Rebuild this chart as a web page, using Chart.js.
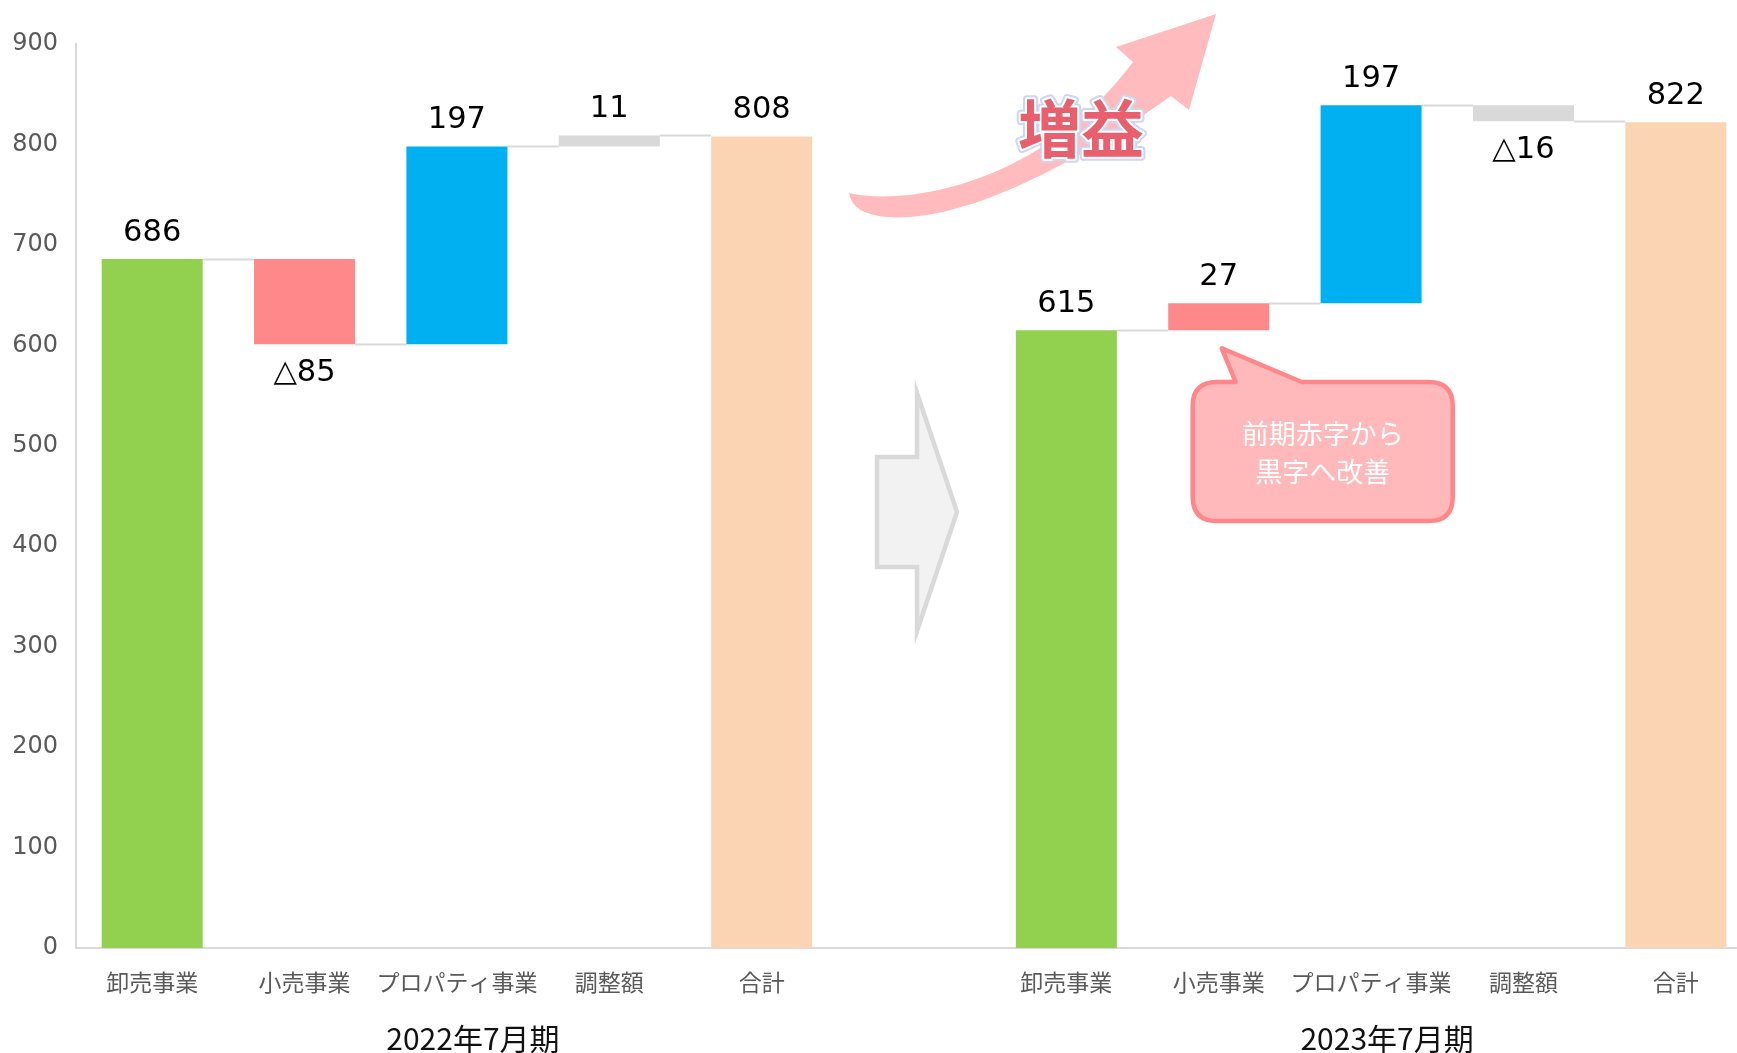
<!DOCTYPE html>
<html lang="ja">
<head>
<meta charset="utf-8">
<title>セグメント利益 増減</title>
<script src="https://cdn.jsdelivr.net/npm/chart.js@4.4.1/dist/chart.umd.min.js"></script>
<style>
  html, body { margin: 0; padding: 0; background: #fff; overflow: hidden; }
  #wrap { width: 1752px; height: 1053px; }
</style>
</head>
<body>
<div id="wrap"><canvas id="chart_segmentWaterfall" width="1752" height="1053"></canvas></div>
<script>
// data
const categories = ['卸売事業', '小売事業', 'プロパティ事業', '調整額', '合計'];
const periods = ['2022年7月期', '2023年7月期'];
const fy2022 = [686, -85, 197, 11, 808];
const fy2023 = [615, 27, 197, -16, 822];
const yTicks = [0, 100, 200, 300, 400, 500, 600, 700, 800, 900];
const stepColors = ['#92D050', '#FF888B', '#00B0F0', '#D9D9D9', '#FBD4B4'];

const JP = '"Noto Sans CJK JP", "Noto Sans", sans-serif';
const NUM = '"DejaVu Sans", "Noto Sans CJK JP", sans-serif';

// build waterfall (floating bars) from the arrays
const labels = [];
const bars = [];
const colors = [];
const texts = [];
const levels = [];   // running total after bar k (connector level), null = none
const groups = [];   // [firstIndex, lastIndex] per period
[fy2022, fy2023].forEach((vals, p) => {
  if (p > 0) {
    labels.push(''); bars.push(null); colors.push('rgba(0,0,0,0)'); texts.push(null); levels.push(null);
  }
  const first = labels.length;
  let run = 0;
  vals.forEach((v, i) => {
    labels.push(categories[i]);
    colors.push(stepColors[i]);
    texts.push(v < 0 ? '△' + Math.abs(v) : String(v));
    if (i === vals.length - 1) {
      bars.push([0, v]);
      levels.push(null);
    } else {
      bars.push([run, run + v]);
      run += v;
      levels.push(run);
    }
  });
  groups.push([first, labels.length - 1]);
});

const waterfallPlugin = {
  id: 'waterfallExtras',
  beforeDatasetsDraw: (chart) => {
    const ctx = chart.ctx;
    const y = chart.scales.y;
    const els = chart.getDatasetMeta(0).data;
    ctx.save();
    ctx.strokeStyle = '#D9D9D9';
    ctx.lineWidth = 2;
    levels.forEach((lv, k) => {
      if (lv === null || !els[k + 1] || !bars[k + 1]) return;
      const a = els[k], b = els[k + 1];
      const py = Math.round(y.getPixelForValue(lv)) + 0.5;
      ctx.beginPath();
      ctx.moveTo(a.x + a.width / 2, py);
      ctx.lineTo(b.x - b.width / 2, py);
      ctx.stroke();
    });
    ctx.restore();
  },
  afterDatasetsDraw: (chart) => {
    const ctx = chart.ctx;
    const y = chart.scales.y;
    const x = chart.scales.x;
    const els = chart.getDatasetMeta(0).data;
    ctx.save();
    // value labels
    ctx.font = '30.5px ' + NUM;
    ctx.fillStyle = '#000';
    ctx.textAlign = 'center';
    ctx.textBaseline = 'middle';
    els.forEach((el, k) => {
      if (!bars[k]) return;
      const [a, b] = bars[k];
      const ty = b >= a ? y.getPixelForValue(Math.max(a, b)) - 26 : y.getPixelForValue(Math.min(a, b)) + 29;
      ctx.fillText(texts[k], el.x, ty);
    });
    // period labels under the category labels
    ctx.font = '30px ' + JP;
    ctx.fillStyle = '#111';
    groups.forEach(([f, l], p) => {
      const cx = (x.getPixelForValue(f) + x.getPixelForValue(l)) / 2 + 16;
      ctx.fillText(periods[p], cx, chart.chartArea.bottom + 91);
    });
    ctx.restore();
  },
  afterDraw: (chart) => {
    const ctx = chart.ctx;
    const x = chart.scales.x;
    const els = chart.getDatasetMeta(0).data;
    const gap = x.getPixelForValue(groups[0][1] + 1);
    ctx.save();

    // grey block arrow between the periods
    ctx.beginPath();
    ctx.moveTo(gap - 37, 457);
    ctx.lineTo(gap + 3, 457);
    ctx.lineTo(gap + 3, 393);
    ctx.lineTo(gap + 43, 512);
    ctx.lineTo(gap + 3, 631);
    ctx.lineTo(gap + 3, 567);
    ctx.lineTo(gap - 37, 567);
    ctx.closePath();
    ctx.fillStyle = '#F2F2F2';
    ctx.fill();
    ctx.lineWidth = 4.5;
    ctx.strokeStyle = '#D9D9D9';
    ctx.lineJoin = 'miter';
    ctx.stroke();

    // pink curved arrow
    ctx.beginPath();
    ctx.moveTo(849, 193);
    ctx.bezierCurveTo(905, 206, 1040, 186, 1133, 62);
    ctx.lineTo(1116, 47);
    ctx.lineTo(1216, 14);
    ctx.lineTo(1189, 110);
    ctx.lineTo(1171, 96);
    ctx.bezierCurveTo(1050, 182, 950, 222, 887, 217);
    ctx.quadraticCurveTo(852, 214, 849, 193);
    ctx.closePath();
    ctx.fillStyle = '#FFBBBD';
    ctx.fill();

    // 増益
    ctx.font = 'bold 63px ' + JP;
    ctx.textAlign = 'center';
    ctx.textBaseline = 'middle';
    ctx.lineJoin = 'round';
    ctx.lineWidth = 8;
    ctx.strokeStyle = '#CDD6EC';
    ctx.strokeText('増益', 1081, 128);
    ctx.lineWidth = 4;
    ctx.strokeStyle = '#FFFFFF';
    ctx.strokeText('増益', 1081, 128);
    ctx.fillStyle = '#E8606D';
    ctx.fillText('増益', 1081, 128);

    // callout under the retail bar of the second period
    const rb = els[groups[1][0] + 1];
    const bx = rb.x;
    const tipY = rb.base + 18;
    const L = bx - 26, R = bx + 234, T = 382, B = 521, r = 24;
    ctx.beginPath();
    ctx.moveTo(L + r, T);
    ctx.lineTo(bx + 17, T);
    ctx.lineTo(bx + 3, tipY);
    ctx.lineTo(bx + 83, T);
    ctx.lineTo(R - r, T);
    ctx.quadraticCurveTo(R, T, R, T + r);
    ctx.lineTo(R, B - r);
    ctx.quadraticCurveTo(R, B, R - r, B);
    ctx.lineTo(L + r, B);
    ctx.quadraticCurveTo(L, B, L, B - r);
    ctx.lineTo(L, T + r);
    ctx.quadraticCurveTo(L, T, L + r, T);
    ctx.closePath();
    ctx.fillStyle = '#FFB9BB';
    ctx.fill();
    ctx.lineWidth = 4.5;
    ctx.lineJoin = 'round';
    ctx.strokeStyle = '#FF878A';
    ctx.stroke();
    ctx.font = '27px ' + JP;
    ctx.fillStyle = '#FFFFFF';
    ctx.fillText('前期赤字から', (L + R) / 2, 434);
    ctx.fillText('黒字へ改善', (L + R) / 2, 472);

    ctx.restore();
  }
};

const chart_segmentWaterfall = new Chart(document.getElementById('chart_segmentWaterfall'), {
  type: 'bar',
  data: {
    labels: labels,
    datasets: [{
      label: 'セグメント利益',
      data: bars,
      backgroundColor: colors,
      borderWidth: 0,
      borderSkipped: false,
      barPercentage: 0.663,
      categoryPercentage: 1.0
    }]
  },
  options: {
    animation: false,
    responsive: false,
    maintainAspectRatio: false,
    layout: { padding: { top: 44, left: 0, right: 0, bottom: 0 } },
    plugins: {
      legend: { display: false },
      tooltip: { enabled: false },
      title: { display: false }
    },
    scales: {
      x: {
        grid: { display: false, drawTicks: false },
        border: { display: true, color: '#D9D9D9', width: 2 },
        ticks: {
          color: '#595959',
          font: { family: JP, size: 23 },
          padding: 20,
          maxRotation: 0,
          autoSkip: false
        },
        afterFit: (s) => { s.height = 105; }
      },
      y: {
        min: yTicks[0],
        max: yTicks[yTicks.length - 1],
        afterBuildTicks: (s) => { s.ticks = yTicks.map(v => ({ value: v })); },
        grid: { display: false, drawTicks: false },
        border: { display: true, color: '#D9D9D9', width: 2 },
        ticks: {
          color: '#595959',
          font: { family: NUM, size: 24 },
          padding: 18
        },
        afterFit: (s) => { s.width = 76; }
      }
    }
  },
  plugins: [waterfallPlugin, {
    id: 'whiteBg',
    beforeDraw: (chart) => {
      const ctx = chart.canvas.getContext('2d');
      ctx.save();
      ctx.globalCompositeOperation = 'destination-over';
      ctx.fillStyle = 'white';
      ctx.fillRect(0, 0, chart.canvas.width, chart.canvas.height);
      ctx.restore();
    }
  }]
});
</script>
</body>
</html>
